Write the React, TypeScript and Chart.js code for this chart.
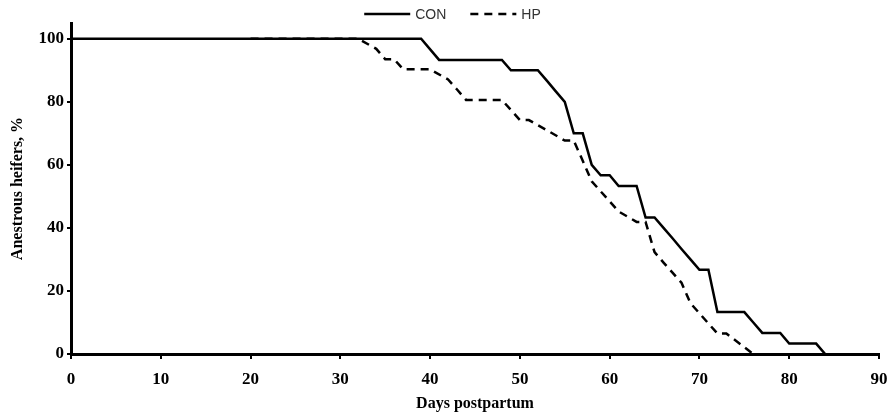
import React, { useEffect, useRef } from "react";
import { Chart, registerables } from "chart.js";

Chart.register(...registerables);

const conDays = [0, 39, 41, 48, 49, 52, 53, 54, 55, 56, 57, 58, 59, 60, 61, 63, 64, 65, 66, 67, 68, 69, 70, 71, 72, 75, 76, 77, 79, 80, 83, 84];
const conValues = [100, 100, 93.3, 93.3, 90, 90, 86.7, 83.3, 80, 70, 70, 60, 56.7, 56.7, 53.3, 53.3, 43.3, 43.3, 40, 36.7, 33.3, 30, 26.7, 26.7, 13.3, 13.3, 10, 6.7, 6.7, 3.3, 3.3, 0];

const hpDays = [20, 32, 34, 35, 36, 37, 39, 40, 42, 43, 44, 48, 49, 50, 51, 53, 55, 56, 57, 58, 59, 60, 61, 63, 64, 65, 66, 67, 68, 69, 70, 71, 72, 73, 76];
const hpValues = [100, 100, 96.8, 93.5, 93.5, 90.3, 90.3, 90.3, 87.1, 83.9, 80.6, 80.6, 77.4, 74.2, 74.2, 71.0, 67.7, 67.7, 61.3, 54.8, 51.6, 48.4, 45.2, 41.9, 41.9, 32.3, 29.0, 25.8, 22.6, 16.1, 12.9, 9.7, 6.5, 6.5, 0];

const yTickValues = [0, 20, 40, 60, 80, 100];
const seriesLabels = ["CON", "HP"];
const xTitle = "Days postpartum";
const yTitle = "Anestrous heifers, %";

const serif = '"Liberation Serif", "Times New Roman", serif';

const topLegend = {
  id: "topLegend",
  afterDraw(chart: any) {
    const ctx = chart.ctx;
    ctx.save();
    ctx.font = '14px "Liberation Sans", Arial, sans-serif';
    const lineLen = 46;
    const gapText = 5;
    const gapItem = 24;
    const items = chart.data.datasets.map((ds: any) => ({
      label: ds.label,
      dash: ds.borderDash || [],
      w: ds.borderWidth,
      color: ds.borderColor,
    }));
    const widths = items.map((it: any) => lineLen + gapText + ctx.measureText(it.label).width);
    const total = widths.reduce((a: number, b: number) => a + b, 0) + gapItem * (items.length - 1);
    let x = chart.width / 2 + 8 - total / 2;
    const y = 14;
    items.forEach((it: any, i: number) => {
      ctx.beginPath();
      ctx.setLineDash(it.dash);
      ctx.lineWidth = it.w;
      ctx.strokeStyle = it.color;
      ctx.moveTo(x, y);
      ctx.lineTo(x + lineLen, y);
      ctx.stroke();
      ctx.setLineDash([]);
      ctx.fillStyle = "#333";
      ctx.textBaseline = "middle";
      ctx.textAlign = "left";
      ctx.fillText(it.label, x + lineLen + gapText, y + 1);
      x += widths[i] + gapItem;
    });
    ctx.restore();
  },
};

export default function App() {
  const ref = useRef<HTMLCanvasElement | null>(null);

  useEffect(() => {
    if (!ref.current) return;
    const chart = new Chart(ref.current, {
      type: "line",
      data: {
        datasets: [
          {
            label: seriesLabels[0],
            data: conDays.map((d, i) => ({ x: d, y: conValues[i] })),
            borderColor: "#000",
            borderWidth: 2.5,
            pointRadius: 0,
            tension: 0,
            fill: false,
          },
          {
            label: seriesLabels[1],
            data: hpDays.map((d, i) => ({ x: d, y: hpValues[i] })),
            borderColor: "#000",
            borderWidth: 2.5,
            borderDash: [8, 6],
            pointRadius: 0,
            tension: 0,
            fill: false,
          },
        ],
      },
      options: {
        animation: false,
        responsive: true,
        maintainAspectRatio: false,
        layout: { padding: { top: 23, right: 0, left: 0, bottom: 0 } },
        plugins: {
          legend: { display: false },
          tooltip: { enabled: false },
        },
        scales: {
          x: {
            type: "linear",
            min: 0,
            max: 90,
            afterFit: (s: any) => {
              s.height = 60;
              s.paddingRight = 10;
            },
            ticks: {
              stepSize: 10,
              color: "#000",
              padding: 10,
              font: { family: serif, size: 17, weight: "bold" },
            },
            grid: {
              drawOnChartArea: false,
              drawTicks: true,
              tickLength: 5,
              color: "#000",
              lineWidth: 2,
            },
            border: { display: true, color: "#000", width: 3 },
            title: {
              display: true,
              text: xTitle,
              color: "#000",
              font: { family: serif, size: 16, weight: "bold" },
              padding: { top: 0, bottom: 1 },
            },
          },
          y: {
            type: "linear",
            min: 0,
            max: 105,
            afterFit: (s: any) => {
              s.width = 71;
            },
            afterBuildTicks: (s: any) => {
              s.ticks = yTickValues.map((v) => ({ value: v }));
            },
            ticks: {
              color: "#000",
              padding: 3,
              font: { family: serif, size: 17, weight: "bold" },
            },
            grid: {
              drawOnChartArea: false,
              drawTicks: true,
              tickLength: 4,
              color: "#000",
              lineWidth: 2,
            },
            border: { display: true, color: "#000", width: 3 },
            title: {
              display: true,
              text: yTitle,
              color: "#000",
              font: { family: serif, size: 16, weight: "bold" },
              padding: { top: 8, bottom: 0 },
            },
          },
        },
      },
      plugins: [topLegend],
    });
    return () => chart.destroy();
  }, []);

  return (
    <div style={{ position: "absolute", left: 0, top: 0, width: 889, height: 414, background: "#fff" }}>
      <canvas ref={ref} style={{ display: "block" }} />
    </div>
  );
}
